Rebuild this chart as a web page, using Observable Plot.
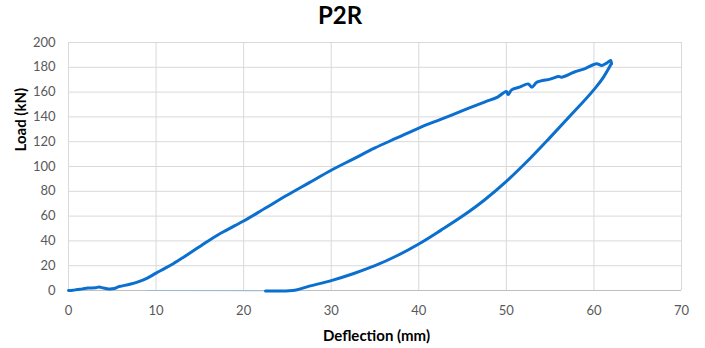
<!DOCTYPE html>
<html>
<head>
<meta charset="utf-8">
<script src="https://cdn.jsdelivr.net/npm/d3@7"></script>
<script src="https://cdn.jsdelivr.net/npm/@observablehq/plot@0.6"></script>
<style>
  body { margin: 0; background: #fff; font-family: Lato, "Open Sans", sans-serif; }
  #title { width: 680px; height: 32px; line-height: 34px; text-align: center; font: bold 24px Lato, sans-serif; color: #000; }
</style>
</head>
<body>
<div id="title">P2R</div>
<div id="chart"></div>
<script>
// Loading branch
const loadX = [0,0.5,1,1.6,2.2,3.1,3.5,4,4.6,5.2,5.8,7,8.1,9,10,11,12,13,14,15,16,17,18,19,20,22.5,25,27.5,30,32.5,35,37.5,40,42.5,45,47.5,49,50,50.2,50.6,51.5,52.5,52.9,53.5,55,56,56.3,57.7,59,60.3,60.9,61.5,61.9,62];
const loadY = [0,0.2,0.8,1.3,2,2.2,2.8,2,1.3,1.6,3.2,5,7.3,10,14,17.8,21.8,26.2,30.8,35.5,40.2,44.6,48.5,52.3,56,66.5,77,87,97,106,115,123,131,138,145,152,156,160.5,158,161.8,164,166.6,164,168,170.5,172.5,172,176,179,182.8,181.5,183.6,185.5,183];
// Unloading branch (listed by increasing deflection)
const unloadX = [22.5,24,25.6,27.5,30,32.5,35,37.5,40,42.5,45,47.5,50,52.5,55,57.5,60,61,62];
const unloadY = [-0.5,-0.5,0,3.5,8,13.5,20,28,37.5,48.5,60,73,88,105,123.5,142.5,162,171,183];
// Faint tail along zero
const tailX = [22.5,18,14,9];
const tailY = [-0.3,-0.2,-0.1,0];

// Axes
const xTicks = [0,10,20,30,40,50,60,70];
const yTicks = [0,20,40,60,80,100,120,140,160,180,200];
const xTitle = "Deflection (mm)";
const yTitle = "Load (kN)";

const loadRows = loadX.map((x, i) => ({x, y: loadY[i]}));
const unloadRows = unloadX.map((x, i) => ({x, y: unloadY[i]}));
const tailRows = tailX.map((x, i) => ({x, y: tailY[i]}));

const blue = "#0a6fcf";

const chart = Plot.plot({
  width: 705,
  height: 316,
  marginTop: 10,
  marginBottom: 58,
  marginLeft: 68,
  marginRight: 24,
  style: {fontFamily: "Lato, 'Open Sans', sans-serif", fontSize: "13px", color: "#595959", background: "#fff"},
  x: {domain: [0, 70], ticks: xTicks, label: null},
  y: {domain: [0, 200], ticks: yTicks, label: null},
  marks: [
    Plot.gridX(xTicks, {stroke: "#d9d9d9", strokeOpacity: 1}),
    Plot.gridY(yTicks, {stroke: "#d9d9d9", strokeOpacity: 1}),
    Plot.ruleY([0], {stroke: "#bfbfbf"}),
    Plot.axisX(xTicks, {tickSize: 0, tickPadding: 15, fill: "#595959", fontSize: 13}),
    Plot.axisY(yTicks, {tickSize: 0, tickPadding: 13, fill: "#595959", fontSize: 13}),
    Plot.line(tailRows, {x: "x", y: "y", stroke: "#7fb2e6", strokeWidth: 1, strokeOpacity: 0.6}),
    Plot.line(unloadRows, {x: "x", y: "y", stroke: blue, strokeWidth: 3, strokeLinejoin: "round", strokeLinecap: "round", curve: "monotone-x"}),
    Plot.line(loadRows, {x: "x", y: "y", stroke: blue, strokeWidth: 3, strokeLinejoin: "round", strokeLinecap: "round", curve: "catmull-rom"}),
    Plot.text([xTitle], {frameAnchor: "bottom", dy: 50, dx: 1.5, text: d => d, fontWeight: "bold", fontSize: 15, fill: "#000"}),
    Plot.text([yTitle], {frameAnchor: "left", dx: -47, dy: -15, rotate: -90, text: d => d, fontWeight: "bold", fontSize: 15, fill: "#000"})
  ]
});
document.getElementById("chart").appendChild(chart);
</script>
</body>
</html>
